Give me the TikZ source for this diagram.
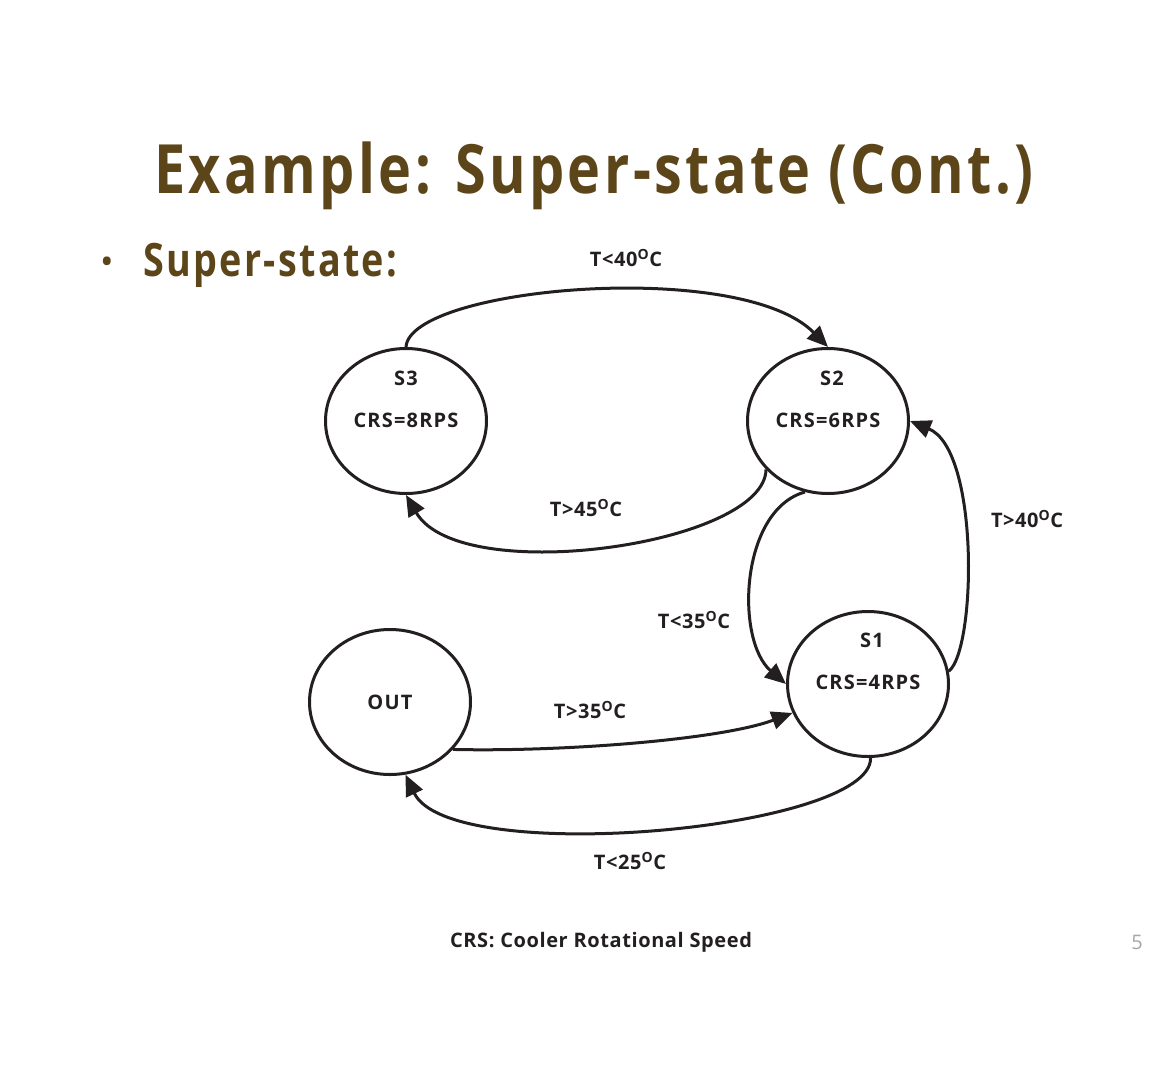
\documentclass[tikz,border=0pt]{standalone}
\usepackage{fontspec}
\setmainfont{Open Sans}[LetterSpace=3]
\newfontfamily\headfont{Open Sans}[FakeStretch=0.82,LetterSpace=5]
\newfontfamily\statefont{Open Sans}[LetterSpace=6]
\usetikzlibrary{arrows.meta,shapes.geometric}
\definecolor{titlebrown}{HTML}{5C4519}
\definecolor{ink}{HTML}{231F20}
\definecolor{pagenum}{HTML}{A6A6A6}
\begin{document}
\begin{tikzpicture}[x=1pt,y=-1pt,
  state/.style={draw=ink,line width=3pt,ellipse,inner sep=0pt,minimum width=161pt,minimum height=145pt},
  statetext/.style={text=ink,font=\statefont\bfseries\fontsize{20}{22}\selectfont},
  edgelabel/.style={text=ink,font=\bfseries\fontsize{20}{22}\selectfont},
  trans/.style={draw=ink,line width=3pt,-{Triangle[length=21pt,width=18pt]}}
]
\useasboundingbox (0,0) rectangle (1171,1080);

% heading and bullet
\node[text=titlebrown,font=\headfont\bfseries\fontsize{68}{70}\selectfont] (title) at (594,176) {Example: Super-state (Cont.)};
\node[text=titlebrown,font=\bfseries\fontsize{28}{30}\selectfont] (bullet) at (107,264) {•};
\node[text=titlebrown,font=\headfont\bfseries\fontsize{46}{48}\selectfont,anchor=west] (sub) at (140,265) {Super-state:};

% states
\node[state] (S3) at (406,421) {};
\node[state] (S2) at (828,421) {};
\node[state] (S1) at (868,684) {};
\node[state] (OUT) at (390,702) {};

\node[statetext] (S3n) at (406,378) {S3};
\node[statetext] (S3c) at (406,420) {CRS=8RPS};
\node[statetext] (S2n) at (832,378) {S2};
\node[statetext] (S2c) at (828,420) {CRS=6RPS};
\node[statetext] (S1n) at (872,640) {S1};
\node[statetext] (S1c) at (868,682) {CRS=4RPS};
\node[statetext] (OUTn) at (390,702) {OUT};

% transitions
\draw[trans] (S3.north) .. controls (410,287) and (740,258) .. (S2.north);
\draw[trans] (S2.218) .. controls (765,545) and (460,588) .. (S3.south);
\draw[trans] (S2.252) .. controls (740,510) and (735,640) .. (S1.west);
\draw[trans] (S1.9) .. controls (976,650) and (980,450) .. (S2.east);
\draw[trans] (OUT.323) .. controls (560,752) and (720,740) .. (S1.201);
\draw[trans] (S1.272) .. controls (872,830) and (450,868) .. (OUT.282);

% transition labels
\node[edgelabel] (l1) at (626,258) {T<40\textsuperscript{O}C};
\node[edgelabel] (l2) at (586,508) {T>45\textsuperscript{O}C};
\node[edgelabel] (l3) at (1027,519) {T>40\textsuperscript{O}C};
\node[edgelabel] (l4) at (694,620) {T<35\textsuperscript{O}C};
\node[edgelabel] (l5) at (590,710) {T>35\textsuperscript{O}C};
\node[edgelabel] (l6) at (630,861) {T<25\textsuperscript{O}C};

% footer
\node[text=ink,font=\bfseries\fontsize{20}{22}\selectfont] (legend) at (601,942) {CRS: Cooler Rotational Speed};
\node[text=pagenum,font=\fontsize{20}{22}\selectfont] (page) at (1137,942) {5};
\end{tikzpicture}
\end{document}
